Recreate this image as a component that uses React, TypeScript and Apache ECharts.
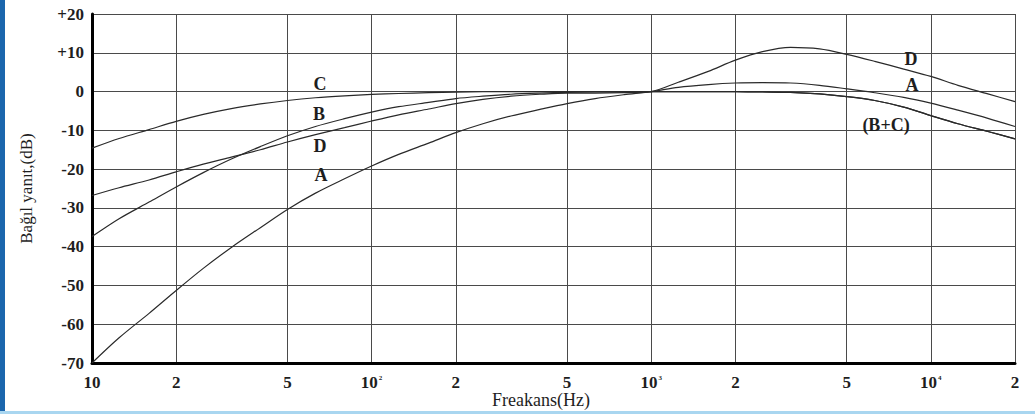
import { useEffect, useRef } from "react";
import * as echarts from "echarts";

// 1/3-octave frequencies (Hz)
const freqs = [10, 12.5, 16, 20, 25, 31.5, 40, 50, 63, 80, 100, 125, 160, 200, 250, 315, 400, 500, 630, 800, 1000, 1250, 1600, 2000, 2500, 3150, 4000, 5000, 6300, 8000, 10000, 12500, 16000, 20000];

// Relative response (dB)
const curveA = [-70, -63.5, -57.2, -51.3, -45.6, -40.2, -35.1, -30.4, -26.2, -22.5, -19.2, -16.2, -13.3, -10.6, -8.3, -6.3, -4.6, -3.1, -1.8, -0.8, 0, 1.1, 1.8, 2.2, 2.3, 2.2, 1.6, 0.7, -0.3, -1.5, -3.0, -4.8, -6.9, -9.0];
const curveB = [-37.4, -32.8, -28.5, -24.6, -20.9, -17.4, -14.2, -11.4, -9.0, -7.0, -5.3, -3.9, -2.8, -1.8, -1.2, -0.7, -0.4, -0.2, -0.1, 0, 0, 0, 0, 0, -0.1, -0.2, -0.6, -1.3, -2.3, -4.0, -6.2, -8.3, -10.3, -12.2];
const curveC = [-14.6, -12.1, -9.8, -7.7, -5.9, -4.4, -3.2, -2.3, -1.6, -1.1, -0.75, -0.5, -0.3, -0.15, -0.05, 0, 0, 0, 0, 0, 0, 0, 0, 0, -0.1, -0.2, -0.6, -1.3, -2.3, -4.0, -6.2, -8.3, -10.3, -12.2];
const curveD = [-26.8, -24.8, -22.8, -20.7, -18.7, -16.9, -15.0, -13.0, -11.1, -9.3, -7.6, -6.0, -4.5, -3.1, -2.0, -1.2, -0.7, -0.4, -0.4, -0.3, 0, 2.4, 5.2, 8.1, 10.3, 11.4, 11.0, 9.6, 7.8, 5.8, 3.9, 1.6, -0.6, -2.6];

const xTickValues = [10, 20, 50, 100, 200, 500, 1000, 2000, 5000, 10000, 20000];
const xTickLabels = ["10", "2", "5", "10{s|2}", "2", "5", "10{s|3}", "2", "5", "10{s|4}", "2"];
const yMin = -70;
const yMax = 20;
const yStep = 10;

const SERIF = '"Liberation Serif", "Times New Roman", serif';

export default function App() {
  const ref = useRef<HTMLDivElement>(null);

  useEffect(() => {
    if (!ref.current) return;
    const chart = echarts.init(ref.current, undefined, { renderer: "svg" });
    const mk = (vals: number[]) => freqs.map((f, i) => [f, vals[i]]);
    const lineSeries = (name: string, vals: number[]) => ({
      name,
      type: "line",
      data: mk(vals),
      smooth: 0.3,
      symbol: "none",
      lineStyle: { color: "#2a2a2a", width: 1.2 },
      z: 3,
    });
    const label = (text: string, x: number, y: number) => ({
      type: "text",
      x,
      y,
      style: {
        text,
        font: `bold 18px ${SERIF}`,
        fill: "#1e1e1e",
        align: "center",
        verticalAlign: "middle",
      },
      z: 10,
    });

    chart.setOption({
      animation: false,
      backgroundColor: "#ffffff",
      grid: { left: 92, right: 20, top: 14, bottom: 51 },
      xAxis: {
        type: "log",
        logBase: 10,
        min: 10,
        max: 20000,
        axisLine: { show: true, onZero: false, lineStyle: { color: "#000", width: 3 } },
        axisTick: { show: false, customValues: xTickValues },
        axisLabel: {
          customValues: xTickValues,
          margin: 11,
          color: "#1e1e1e",
          fontFamily: SERIF,
          fontSize: 17,
          fontWeight: "bold",
          showMinLabel: true,
          showMaxLabel: true,
          formatter: (v: number) => {
            const i = xTickValues.findIndex((t) => Math.abs(t - v) / t < 1e-6);
            return i >= 0 ? xTickLabels[i] : "";
          },
          rich: {
            s: { fontSize: 7, fontFamily: SERIF, verticalAlign: "top", padding: [0, 0, 10, 1] },
          },
        },
        splitLine: { show: true, lineStyle: { color: "#4a4a4a", width: 1 } },
        minorSplitLine: { show: false },
      },
      yAxis: {
        type: "value",
        min: yMin,
        max: yMax,
        interval: yStep,
        name: "Bağıl yanıt,(dB)",
        nameLocation: "middle",
        nameGap: 57,
        nameRotate: 90,
        nameTextStyle: { fontFamily: SERIF, fontSize: 17, color: "#1e1e1e" },
        axisLine: { show: true, onZero: false, lineStyle: { color: "#000", width: 3 } },
        axisTick: { show: false },
        axisLabel: {
          margin: 8,
          color: "#1e1e1e",
          fontFamily: SERIF,
          fontSize: 17,
          fontWeight: "bold",
          formatter: (v: number) => (v > 0 ? `+${v}` : `${v}`),
        },
        splitLine: { show: true, lineStyle: { color: "#4a4a4a", width: 1 } },
      },
      series: [
        lineSeries("A", curveA),
        lineSeries("B", curveB),
        lineSeries("C", curveC),
        lineSeries("D", curveD),
      ],
      graphic: [
        { type: "rect", shape: { x: 0, y: 0, width: 5, height: 414 }, style: { fill: "#1b66ad" }, z: 20 },
        { type: "rect", shape: { x: 0, y: 411, width: 1035, height: 3 }, style: { fill: "#a9d6f0" }, z: 20 },
        label("C", 320, 84),
        label("B", 319, 114),
        label("D", 320, 146),
        label("A", 321, 175),
        label("D", 911, 59),
        label("A", 912, 85),
        label("(B+C)", 886, 125),
        {
          type: "text",
          x: 541,
          y: 400,
          style: {
            text: "Freakans(Hz)",
            font: `18px ${SERIF}`,
            fill: "#1e1e1e",
            align: "center",
            verticalAlign: "middle",
          },
        },
      ],
    });
    return () => chart.dispose();
  }, []);

  return (
    <div
      ref={ref}
      style={{ position: "fixed", left: 0, top: 0, width: 1035, height: 414, background: "#fff" }}
    />
  );
}
